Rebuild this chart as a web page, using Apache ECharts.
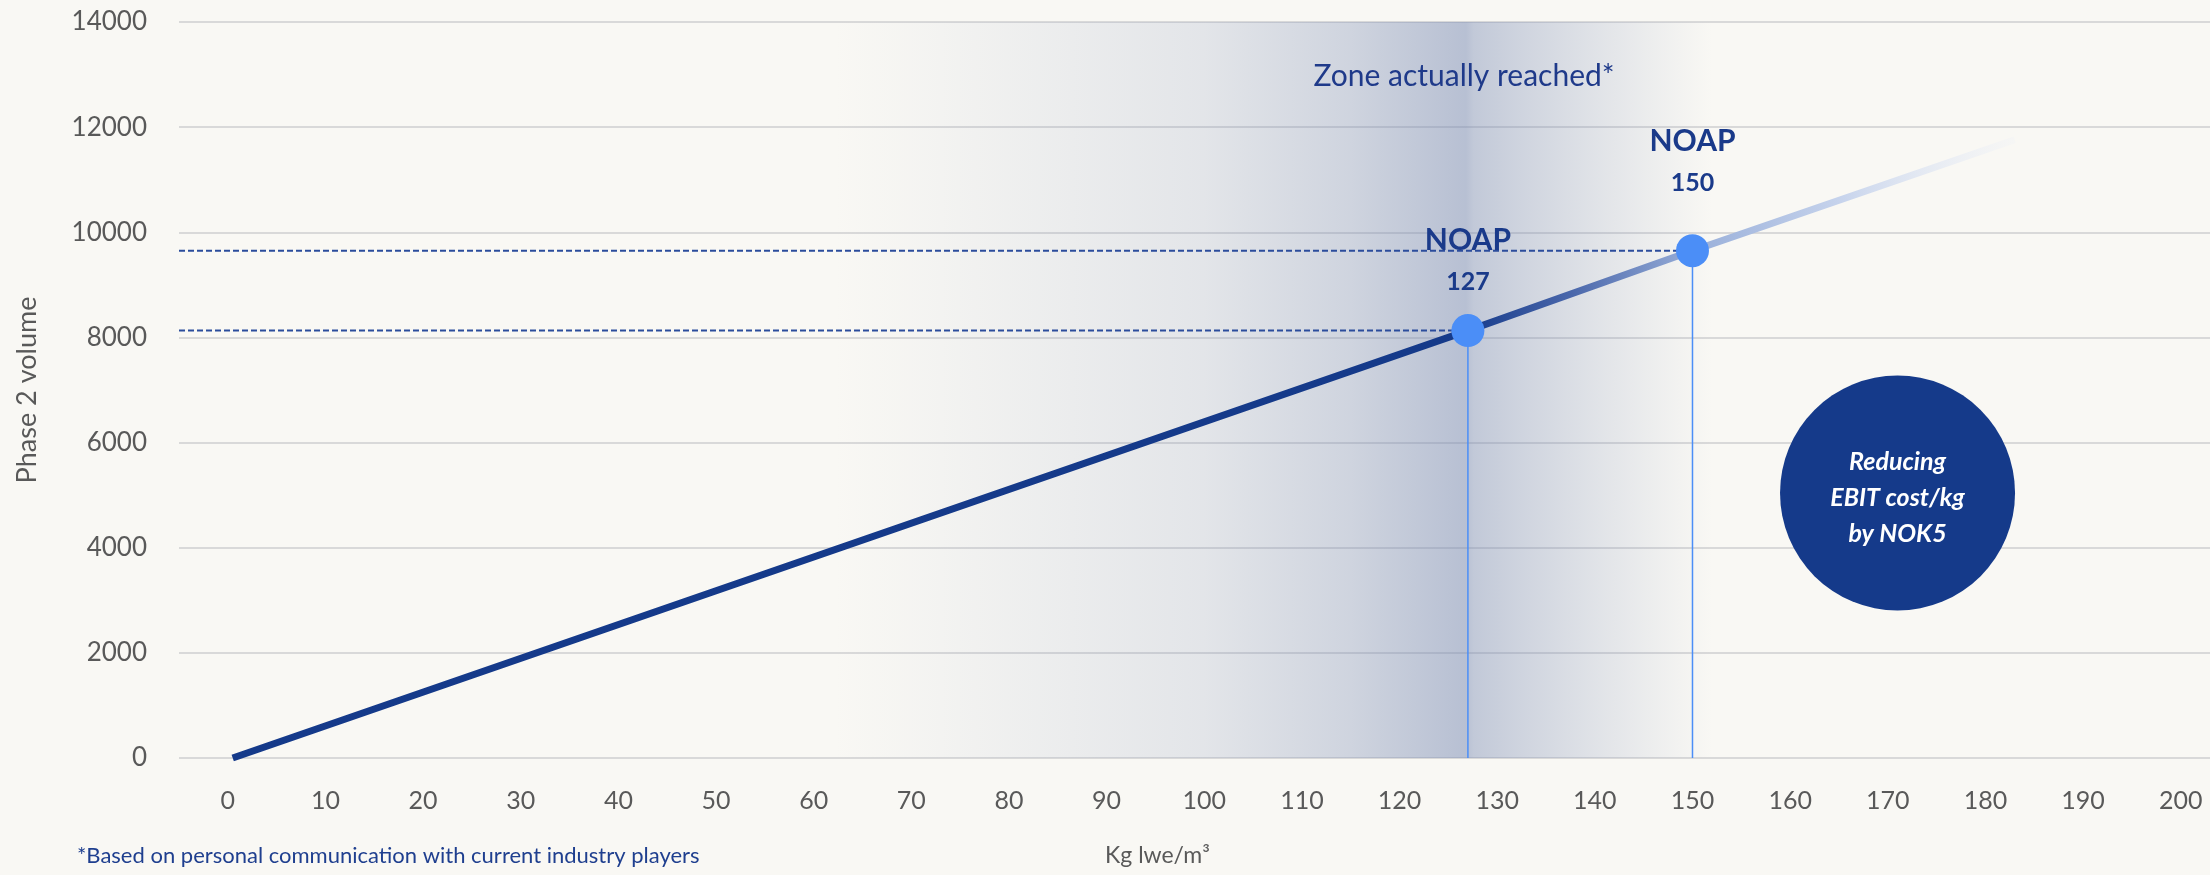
<!DOCTYPE html>
<html>
<head>
<meta charset="utf-8">
<style>
  html, body { margin: 0; padding: 0; background: #f9f8f4; }
  #chart { width: 2210px; height: 875px; }
</style>
<script src="https://cdn.jsdelivr.net/npm/echarts@6/dist/echarts.min.js"></script>
</head>
<body>
<div id="chart"></div>
<script>
// ---- data ----
const xTicks = [0, 10, 20, 30, 40, 50, 60, 70, 80, 90, 100, 110, 120, 130, 140, 150, 160, 170, 180, 190, 200];
const yTicks = [0, 2000, 4000, 6000, 8000, 10000, 12000, 14000];
const lineX = [0.5, 127, 150, 183];
const lineY = [0, 8130, 9650, 11760];
const noapX = [127, 150];
const noapY = [8130, 9650];
const zoneRange = [62, 152];
const zoneLabel = 'Zone actually reached*';
const bubbleText = ['Reducing', 'EBIT cost/kg', 'by NOK5'];
const footnote = '*Based on personal communication with current industry players';

const FONT = 'Lato, "Open Sans", sans-serif';
const NAVY = '#153a8a';
const DOT = '#4b8ef7';

const chart = echarts.init(document.getElementById('chart'), null, { renderer: 'canvas' });

const lineData = lineX.map((x, i) => [x, lineY[i]]);
const labelDist = [12, 31];
const dotData = noapX.map((x, i) => ({ value: [x, noapY[i]], label: { distance: labelDist[i] } }));

const dashedSeries = noapX.map((x, i) => ({
  type: 'line', z: 3, silent: true, showSymbol: false, symbol: 'none',
  data: [[-5, noapY[i]], [x, noapY[i]]],
  lineStyle: { color: '#2b4c9c', width: 2, type: [6, 3] }
}));
const verticalSeries = noapX.map((x, i) => ({
  type: 'line', z: 3, silent: true, showSymbol: false, symbol: 'none',
  data: [[x, yTicks[0]], [x, noapY[i]]],
  lineStyle: { color: DOT, width: 1.5 }
}));

const z0 = zoneRange[0], z1 = zoneRange[1];
const off = v => (v - z0) / (z1 - z0);
const shade = a => 'rgba(118,136,178,' + a + ')';

const option = {
  backgroundColor: '#f9f8f4',
  animation: false,
  grid: { left: 179, right: 0, top: 22, bottom: 117, containLabel: false, outerBoundsMode: 'none' },
  xAxis: {
    type: 'value', min: -5, max: 203,
    name: 'Kg lwe/m³', nameLocation: 'middle', nameGap: 86,
    nameTextStyle: { fontFamily: FONT, fontSize: 23, color: '#595959', padding: [0, 74, 0, 0] },
    axisLine: { show: false }, axisTick: { show: false }, splitLine: { show: false },
    axisLabel: { customValues: xTicks, fontFamily: FONT, fontSize: 25, color: '#595959', margin: 30 }
  },
  yAxis: {
    type: 'value', min: yTicks[0], max: yTicks[yTicks.length - 1], interval: 2000,
    name: 'Phase 2 volume', nameLocation: 'middle', nameGap: 138,
    nameTextStyle: { fontFamily: FONT, fontSize: 27, color: '#595959' },
    axisLine: { show: false }, axisTick: { show: false },
    splitLine: { lineStyle: { color: '#d9d9d9', width: 2 } },
    axisLabel: { fontFamily: FONT, fontSize: 26, color: '#595959', margin: 32, formatter: v => String(v) }
  },
  graphic: [{
    type: 'text', left: 77, top: 845,
    style: { text: footnote, fontFamily: FONT, fontSize: 22, fill: '#1f3f8f' }
  }],
  series: [
    {
      type: 'line', z: 1, silent: true, data: [], symbol: 'none',
      markArea: {
        silent: true,
        itemStyle: {
          color: new echarts.graphic.LinearGradient(0, 0, 1, 0, [
            { offset: 0, color: shade(0) },
            { offset: off(70), color: shade(0.03) },
            { offset: off(100), color: shade(0.17) },
            { offset: off(115), color: shade(0.32) },
            { offset: off(126.8), color: shade(0.5) },
            { offset: off(127.6), color: shade(0.42) },
            { offset: off(132), color: shade(0.33) },
            { offset: off(140.6), color: shade(0.18) },
            { offset: off(148), color: shade(0.06) },
            { offset: 1, color: shade(0) }
          ])
        },
        data: [[{ xAxis: z0, yAxis: yTicks[0] }, { xAxis: z1, yAxis: yTicks[yTicks.length - 1] }]]
      },
      markPoint: {
        silent: true,
        data: [
          {
            coord: [126.6, 12970], symbol: 'circle', symbolSize: 1,
            itemStyle: { color: 'rgba(0,0,0,0)' },
            label: { show: true, position: 'inside', formatter: zoneLabel, fontFamily: FONT, fontSize: 30, color: '#1f3a8a' }
          },
          {
            coord: [171, 5040], symbol: 'circle', symbolSize: 235,
            itemStyle: { color: NAVY },
            label: {
              show: true, position: 'inside', formatter: bubbleText.join('\n'),
              fontFamily: FONT, fontSize: 25, fontStyle: 'italic', fontWeight: 'bold',
              lineHeight: 36, color: '#ffffff', align: 'center', offset: [0, 5]
            }
          }
        ]
      }
    },
    ...dashedSeries,
    ...verticalSeries,
    {
      type: 'line', z: 4, silent: true, showSymbol: false, symbol: 'none',
      data: lineData,
      lineStyle: {
        width: 7, cap: 'butt',
        color: new echarts.graphic.LinearGradient(0, 0, 1, 0, [
          { offset: 0, color: '#153a8a' },
          { offset: 0.69, color: '#153a8a' },
          { offset: 0.75, color: '#4a67ab' },
          { offset: 0.82, color: '#9ab0da' },
          { offset: 0.9, color: '#c6d3ec' },
          { offset: 1, color: 'rgba(236,240,248,0.2)' }
        ])
      }
    },
    {
      type: 'scatter', z: 5, silent: true, symbolSize: 33,
      itemStyle: { color: DOT, opacity: 1 },
      data: dotData,
      label: {
        show: true, position: 'top',
        formatter: p => '{n|NOAP}\n{v|' + p.value[0] + '}',
        rich: {
          n: { fontFamily: FONT, fontSize: 30, fontWeight: 'bold', color: '#1a3a8a', lineHeight: 41, align: 'center' },
          v: { fontFamily: FONT, fontSize: 25, fontWeight: 'bold', color: '#1a3a8a', lineHeight: 41, align: 'center' }
        }
      }
    }
  ]
};
chart.setOption(option);
</script>
</body>
</html>
